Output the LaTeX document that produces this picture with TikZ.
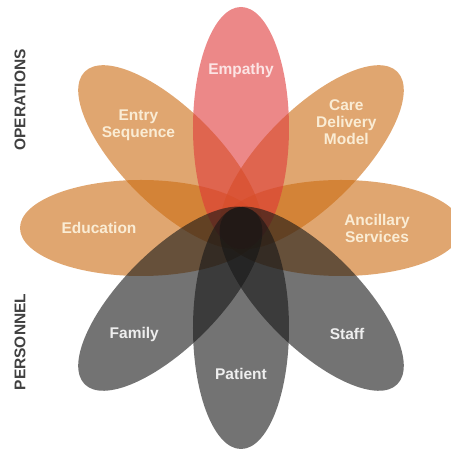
\documentclass[tikz,border=0pt]{standalone}
\usepackage{fontspec}
\setmainfont{Liberation Sans}
\usetikzlibrary{shapes.geometric}
\definecolor{petalorange}{RGB}{203,107,17}
\definecolor{petalred}{RGB}{223,57,57}
\definecolor{petalgray}{RGB}{22,22,22}
\definecolor{orangetext}{RGB}{250,236,212}
\definecolor{redtext}{RGB}{252,228,228}
\definecolor{graytext}{RGB}{238,238,238}
\definecolor{sidetext}{RGB}{64,64,64}

\begin{document}
\begin{tikzpicture}[x=1pt,y=1pt]
\tikzstyle{petal}=[ellipse, minimum width=242pt, minimum height=96pt, inner sep=0pt, fill opacity=0.6]
\tikzstyle{label}=[align=center, inner sep=0pt, font=\fontsize{15.5}{17}\selectfont\bfseries]
\useasboundingbox (-241,-221) rectangle (210,228);
% operations petals
\node (p180) [petal, fill=petalorange, rotate=180] at (180:100) {};
\node (p135) [petal, fill=petalorange, rotate=135] at (135:100) {};
\node (p45) [petal, fill=petalorange, rotate=45] at (45:100) {};
\node (p0) [petal, fill=petalorange] at (0:100) {};
\node (p90) [petal, fill=petalred, rotate=90] at (90:100) {};
% personnel petals
\node (p225) [petal, fill=petalgray, rotate=225] at (225:100) {};
\node (p270) [petal, fill=petalgray, rotate=270] at (270:100) {};
\node (p315) [petal, fill=petalgray, rotate=315] at (315:100) {};
% labels
\node (empathy) [label, text=redtext] at (90:158) {Empathy};
\node (entry) [label, text=orangetext] at (135:145) {Entry\\Sequence};
\node (care) [label, text=orangetext] at (45:149) {Care\\Delivery\\Model};
\node (education) [label, text=orangetext] at (180:142) {Education};
\node (ancillary) [label, text=orangetext] at (0:136) {Ancillary\\Services};
\node (family) [label, text=graytext] at (225:151) {Family};
\node (patient) [label, text=graytext] at (270:146) {Patient};
\node (staff) [label, text=graytext] at (315:150) {Staff};
\node (operations) [label, text=sidetext, rotate=90] at (-221,128) {OPERATIONS};
\node (personnel) [label, text=sidetext, rotate=90] at (-221,-114) {PERSONNEL};
\end{tikzpicture}
\end{document}
